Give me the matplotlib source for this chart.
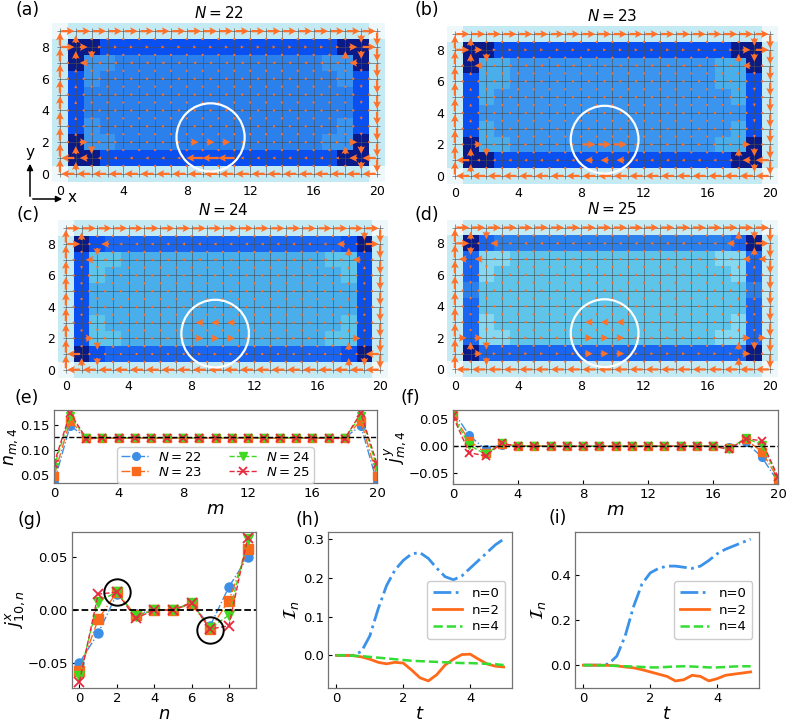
# Density / current maps of the lattice (a-d), cuts (e-g) and time traces (h-i)

import matplotlib
matplotlib.use('Agg')
import matplotlib.pyplot as plt
import numpy as np
from matplotlib.colors import ListedColormap
from matplotlib.patches import Circle

#------------------------------------------data-------------------------------------------------
# colour levels used in the density maps, 0 = lightest ... 9 = darkest
level_colors = ['#eef8fb', '#c4eaf4', '#86d8f0', '#5ec4ea', '#4aaeea',
                '#3b94ee', '#2c80ec', '#1a66f0', '#0a50f0', '#0a1a88']

# density level of every site, rows from y=9 (top) to y=0, columns x=0..20
lev_a = ['0' + '1' * 19 + '0',
         '199' + '8' * 15 + '991',
         '1955' + '6' * 13 + '5591',
         '185' + '6' * 15 + '581',
         '18' + '6' * 17 + '81',
         '18' + '6' * 17 + '81',
         '185' + '6' * 15 + '581',
         '1955' + '6' * 13 + '5591',
         '199' + '8' * 15 + '991',
         '0' + '1' * 19 + '0']
lev_b = ['0' + '1' * 19 + '0',
         '199' + '8' * 15 + '991',
         '1944' + '5' * 13 + '4491',
         '1844' + '5' * 13 + '4481',
         '184' + '5' * 15 + '481',
         '18' + '5' * 17 + '81',
         '184' + '5' * 15 + '481',
         '1944' + '5' * 13 + '4491',
         '199' + '8' * 15 + '991',
         '0' + '1' * 19 + '0']
lev_c = ['0' + '1' * 19 + '0',
         '198' + '7' * 15 + '891',
         '1833' + '4' * 13 + '3381',
         '183' + '4' * 15 + '381',
         '18' + '4' * 17 + '81',
         '18' + '4' * 17 + '81',
         '183' + '4' * 15 + '381',
         '1833' + '4' * 13 + '3381',
         '198' + '7' * 15 + '891',
         '0' + '1' * 19 + '0']
lev_d = ['0' + '1' * 19 + '0',
         '197' + '6' * 15 + '791',
         '1722' + '3' * 13 + '2271',
         '172' + '3' * 15 + '271',
         '16' + '3' * 17 + '61',
         '17' + '3' * 17 + '71',
         '172' + '3' * 15 + '271',
         '1722' + '3' * 13 + '2271',
         '197' + '7' * 15 + '791',
         '0' + '1' * 19 + '0']

# bond currents along x (links m -> m+1), rows y=9..0
jx_code = {'R': 1.0, 'r': 0.6, '>': 0.25, '.': 0.0, '<': -0.25,
           'l': -0.6, 'L': -1.0, 'W': -1.25}
# bond currents along y (links n -> n+1), rows link 8..0, columns x=0..20
jy_code = {'U': 1.0, 'u': 0.6, '^': 0.25, '.': 0.0, 'v': -0.25,
           'd': -0.6, 'D': -1.0}

jx_a = ['R' * 20,
        'Rr' + '>' * 16 + 'rR',
        '.l' + '<' * 16 + 'l.',
        '.' * 20, '.' * 20, '.' * 20, '.' * 20,
        '.r>' + '.' * 5 + 'rrr' + '.' * 6 + '>r.',
        'Ll' + '<' * 6 + 'WWW' + '<' * 7 + 'lL',
        'L' * 20]
jy_a = ['Uu' + '.' * 17 + 'dD',
        'Uud' + '.' * 15 + 'udD',
        'U^' + '.' * 17 + 'vD',
        'U^' + '.' * 17 + 'vD',
        'U^' + '.' * 17 + 'vD',
        'U^' + '.' * 17 + 'vD',
        'U^' + '.' * 17 + 'vD',
        'Uud' + '.' * 15 + 'udD',
        'Uu' + '.' * 17 + 'dD']

jx_b = ['R' * 20,
        'Rr' + '>' * 16 + 'rR',
        '.l' + '<' * 16 + 'l.',
        '.' * 20, '.' * 20, '.' * 20, '.' * 20,
        '.r' + '>' * 6 + 'RRR' + '>' * 7 + 'r.',
        'L<' + '<' * 6 + 'lll' + '<' * 7 + 'lL',
        'L' * 20]
jy_b = jy_a

jx_c = ['R' * 20,
        'R.l' + '<' * 14 + 'l.R',
        '.l' + '<' * 16 + 'l.',
        '.>' + '.' * 16 + '>.',
        '.' * 20, '.' * 20,
        '.<' + '.' * 6 + 'lll' + '.' * 7 + '<.',
        '.r' + '>' * 6 + 'rrr' + '>' * 7 + 'r.',
        'L' + '.' * 7 + '>>>' + '.' * 8 + 'L',
        'L' * 20]
jy_c = ['Uu' + '.' * 17 + 'dD',
        'U.d^' + '.' * 13 + 'vu.D',
        'Uvv' + '.' * 15 + '^^D',
        'U.v' + '.' * 15 + '^.D',
        'U.v' + '.' * 15 + '^.D',
        'U' + '.' * 19 + 'D',
        'U.v' + '.' * 15 + '^.D',
        'U.d^' + '.' * 13 + 'vu.D',
        'Uud' + '.' * 15 + 'udD']

jx_d = ['R' * 20,
        'R.l' + '<' * 14 + 'l.R',
        'll' + '<' * 16 + 'll',
        '.' * 20, '.' * 20, '.' * 20,
        '.' * 8 + 'lll' + '.' * 9,
        'rr' + '>' * 6 + 'rrr' + '>' * 7 + 'rr',
        '.r' + '>' * 6 + 'rrr' + '>' * 7 + 'r.',
        'L' * 20]
jy_d = ['Uud' + '.' * 15 + 'udD',
        'Ud.^' + '.' * 13 + 'v.uD',
        'Uvv' + '.' * 15 + '^^D',
        'Uvv' + '.' * 15 + '^^D',
        'Uvv' + '.' * 15 + '^^D',
        'U.v' + '.' * 15 + '^.D',
        'U.v' + '.' * 15 + '^.D',
        'Uud^' + '.' * 13 + 'vudD',
        'U.d' + '.' * 15 + 'u.D']

titles = ['$N=22$', '$N=23$', '$N=24$', '$N=25$']
labels_N = ['$N=22$', '$N=23$', '$N=24$', '$N=25$']

# (e) density along the row n=4
m_sites = np.arange(21)
n_m4_22 = [0.035, 0.148, 0.124, 0.123, 0.123, 0.124, 0.123, 0.123, 0.124, 0.123, 0.123,
           0.123, 0.124, 0.123, 0.123, 0.124, 0.123, 0.124, 0.124, 0.148, 0.035]
n_m4_23 = [0.048, 0.158, 0.123, 0.123, 0.123, 0.124, 0.123, 0.123, 0.123, 0.123, 0.123,
           0.123, 0.123, 0.123, 0.123, 0.124, 0.123, 0.123, 0.123, 0.158, 0.048]
n_m4_24 = [0.065, 0.168, 0.123, 0.123, 0.123, 0.124, 0.124, 0.123, 0.124, 0.123, 0.124,
           0.123, 0.124, 0.123, 0.124, 0.124, 0.123, 0.123, 0.123, 0.168, 0.065]
n_m4_25 = [0.072, 0.173, 0.122, 0.123, 0.123, 0.124, 0.124, 0.123, 0.124, 0.123, 0.124,
           0.123, 0.124, 0.123, 0.124, 0.124, 0.123, 0.123, 0.122, 0.173, 0.072]

# (f) y-current through the row n=4
jy_m4_22 = [0.065, 0.020, -0.006, 0.003, 0.0, 0.0, 0.0, 0.0, 0.0, 0.0, 0.0,
            0.0, 0.0, 0.0, 0.0, 0.0, 0.0, -0.002, 0.008, -0.020, -0.066]
jy_m4_23 = [0.058, 0.010, -0.012, 0.004, 0.0, 0.0, 0.0, 0.0, 0.0, 0.0, 0.0,
            0.0, 0.0, 0.0, 0.0, 0.0, 0.0, -0.004, 0.013, -0.010, -0.060]
jy_m4_24 = [0.056, 0.002, -0.015, 0.005, 0.0, 0.0, 0.0, 0.0, 0.0, 0.0, 0.0,
            0.0, 0.0, 0.0, 0.0, 0.0, 0.0, -0.005, 0.015, 0.003, -0.058]
jy_m4_25 = [0.055, -0.012, -0.018, 0.005, 0.0, 0.0, 0.0, 0.0, 0.0, 0.0, 0.0,
            0.0, 0.0, 0.0, 0.0, 0.0, 0.0, -0.006, 0.014, 0.010, -0.057]

# (g) x-current through the column m=10
n_rows = np.arange(10)
jx_10n_22 = [-0.050, -0.022, 0.015, -0.004, 0.000, 0.000, 0.006, -0.015, 0.022, 0.050]
jx_10n_23 = [-0.058, -0.009, 0.017, -0.005, 0.000, 0.000, 0.006, -0.018, 0.009, 0.058]
jx_10n_24 = [-0.063, 0.008, 0.017, -0.006, 0.000, 0.000, 0.007, -0.017, -0.005, 0.067]
jx_10n_25 = [-0.068, 0.015, 0.017, -0.008, 0.000, 0.000, 0.007, -0.018, -0.015, 0.068]
circled_n = [2, 7]
circled_j = [0.017, -0.019]

# (h), (i) time traces
t = [0.0, 0.25, 0.5, 0.75, 1.0, 1.25, 1.5, 1.75, 2.0, 2.25, 2.5,
     2.75, 3.0, 3.25, 3.5, 3.75, 4.0, 4.25, 4.5, 4.75, 5.0]
h_n0 = [0.0, 0.0, 0.0, 0.01, 0.05, 0.12, 0.18, 0.22, 0.245, 0.262, 0.265,
        0.25, 0.225, 0.203, 0.195, 0.205, 0.225, 0.245, 0.265, 0.285, 0.30]
h_n2 = [0.0, 0.0, -0.001, -0.004, -0.010, -0.018, -0.022, -0.018, -0.020, -0.038, -0.058,
        -0.066, -0.050, -0.025, -0.010, 0.002, 0.003, -0.010, -0.022, -0.028, -0.030]
h_n4 = [0.0, 0.0, -0.001, -0.002, -0.004, -0.006, -0.008, -0.010, -0.012, -0.014, -0.015,
        -0.016, -0.017, -0.018, -0.019, -0.020, -0.020, -0.021, -0.022, -0.023, -0.025]
i_n0 = [0.0, 0.0, 0.0, 0.005, 0.04, 0.13, 0.26, 0.36, 0.41, 0.43, 0.44,
        0.44, 0.435, 0.43, 0.44, 0.465, 0.495, 0.515, 0.53, 0.545, 0.56]
i_n2 = [0.0, 0.0, 0.0, -0.001, -0.003, -0.008, -0.012, -0.020, -0.030, -0.040, -0.050,
        -0.070, -0.065, -0.045, -0.050, -0.070, -0.060, -0.045, -0.040, -0.035, -0.030]
i_n4 = [0.0, 0.0, -0.001, -0.002, -0.003, -0.005, -0.006, -0.008, -0.010, -0.010, -0.008,
        -0.006, -0.005, -0.006, -0.008, -0.010, -0.010, -0.008, -0.006, -0.005, -0.005]

#------------------------------------------styles-----------------------------------------------
c_blue, c_orange, c_green, c_red = '#3d8ee6', '#fa6a1c', '#40d820', '#e8283c'
series_style = [dict(color=c_blue, marker='o', ls='-.'),
                dict(color=c_orange, marker='s', ls='-.'),
                dict(color=c_green, marker='v', ls='--'),
                dict(color=c_red, marker='x', ls='--', mew=1.3)]
arrow_color = '#ff7028'
cmap = ListedColormap(level_colors)

fig = plt.figure(figsize=(7.89, 7.26), dpi=100)
W, H = 789.0, 726.0


def px_axes(x0, y0, x1, y1):
    return fig.add_axes([x0 / W, 1 - y1 / H, (x1 - x0) / W, (y1 - y0) / H])


def lattice_panel(ax, lev, jx_rows, jy_rows, title):
    grid = np.array([[int(c) for c in r] for r in lev[::-1]])
    ax.imshow(grid, cmap=cmap, vmin=-0.5, vmax=9.5, origin='lower',
              extent=(-0.5, 20.5, -0.5, 9.5), interpolation='nearest', zorder=0)
    ax.vlines(np.arange(21), -0.2, 9.2, color='0.3', lw=0.7, alpha=0.6, zorder=1)
    ax.hlines(np.arange(10), -0.2, 20.2, color='0.3', lw=0.7, alpha=0.6, zorder=1)

    jx = np.array([[jx_code[c] for c in r] for r in jx_rows[::-1]])
    jy = np.array([[jy_code[c] for c in r] for r in jy_rows[::-1]])
    qkw = dict(angles='xy', scale_units='xy', scale=1 / 0.82, pivot='mid',
               color=arrow_color, width=0.0068, headwidth=3.4, headlength=3.4,
               headaxislength=2.9, minlength=1.1, zorder=3)
    xx, yy = np.meshgrid(np.arange(20) + 0.5, np.arange(10))
    ax.quiver(xx, yy, jx, np.zeros_like(jx), **qkw)
    xx, yy = np.meshgrid(np.arange(21), np.arange(9) + 0.5)
    ax.quiver(xx, yy, np.zeros_like(jy), jy, **qkw)

    ax.add_patch(Circle((9.5, 2.3), 2.15, fill=False, ec='white', lw=1.6, zorder=4))
    ax.set_xlim(-0.5, 20.5)
    ax.set_ylim(-0.5, 9.5)
    ax.set_xticks([0, 4, 8, 12, 16, 20])
    ax.set_yticks([0, 2, 4, 6, 8])
    ax.tick_params(length=0, labelsize=9, pad=2)
    for s in ax.spines.values():
        s.set_visible(False)
    ax.set_title(title, fontsize=11, pad=4)


lattice_panel(px_axes(52, 23, 385, 182), lev_a, jx_a, jy_a, titles[0])
lattice_panel(px_axes(447, 25, 778, 185), lev_b, jx_b, jy_b, titles[1])
lattice_panel(px_axes(58, 220, 388, 378), lev_c, jx_c, jy_c, titles[2])
lattice_panel(px_axes(447, 219, 778, 378), lev_d, jx_d, jy_d, titles[3])

# small x / y direction sketch under panel (a)
fig.add_artist(matplotlib.patches.FancyArrowPatch(
    (30 / W, 1 - 199 / H), (30 / W, 1 - 161 / H), transform=fig.transFigure,
    arrowstyle='-|>', mutation_scale=9, color='k', lw=1.1))
fig.add_artist(matplotlib.patches.FancyArrowPatch(
    (30 / W, 1 - 199 / H), (65 / W, 1 - 199 / H), transform=fig.transFigure,
    arrowstyle='-|>', mutation_scale=9, color='k', lw=1.1))
fig.text(30 / W, 1 - 152 / H, 'y', fontsize=11, ha='center', va='center')
fig.text(72 / W, 1 - 198 / H, 'x', fontsize=11, ha='center', va='center')


def style_line_axes(ax):
    ax.tick_params(direction='in', labelsize=9.5, length=3, pad=3)
    for s in ax.spines.values():
        s.set_color('0.45')
        s.set_linewidth(0.9)


#------------------------------------------(e)--------------------------------------------------
ax_e = px_axes(54, 410, 377, 483)
for vals, st, lab in zip([n_m4_22, n_m4_23, n_m4_24, n_m4_25], series_style, labels_N):
    ax_e.plot(m_sites, vals, lw=1.0, ms=5.5, label=lab, **st)
ax_e.axhline(0.125, color='k', ls='--', lw=1.0)
ax_e.set_xlim(0, 20)
ax_e.set_ylim(0.034, 0.179)
ax_e.set_xticks([0, 4, 8, 12, 16, 20])
ax_e.set_yticks([0.05, 0.10, 0.15])
ax_e.set_xlabel('$m$', fontsize=13, labelpad=0)
ax_e.set_ylabel('$n_{m,4}$', fontsize=12.5, labelpad=0)
style_line_axes(ax_e)
ax_e.legend(loc='lower center', ncol=2, fontsize=9.5, handlelength=2.2,
            labelspacing=0.15, columnspacing=2.0, borderpad=0.3, handletextpad=0.6,
            borderaxespad=0.0, framealpha=1.0)

#------------------------------------------(f)--------------------------------------------------
ax_f = px_axes(453, 410, 778, 484)
for vals, st in zip([jy_m4_22, jy_m4_23, jy_m4_24, jy_m4_25], series_style):
    ax_f.plot(m_sites, vals, lw=1.0, ms=5.5, **st)
ax_f.axhline(0.0, color='k', ls='--', lw=1.0)
ax_f.set_xlim(0, 20)
ax_f.set_ylim(-0.07, 0.067)
ax_f.set_xticks([0, 4, 8, 12, 16, 20])
ax_f.set_yticks([-0.05, 0.00, 0.05])
ax_f.set_xlabel('$m$', fontsize=13, labelpad=0)
ax_f.set_ylabel('$j^{y}_{m,4}$', fontsize=12.5, labelpad=0)
style_line_axes(ax_f)

#------------------------------------------(g)--------------------------------------------------
ax_g = px_axes(72, 532, 256, 688)
for vals, st in zip([jx_10n_22, jx_10n_23, jx_10n_24, jx_10n_25], series_style):
    ax_g.plot(n_rows, vals, lw=1.0, ms=6.5, **st)
ax_g.axhline(0.0, color='k', ls='--', lw=1.3)
ax_g.plot(circled_n, circled_j, 'o', ms=19, mfc='none', mec='k', mew=1.4)
ax_g.set_xlim(-0.4, 9.45)
ax_g.set_ylim(-0.074, 0.074)
ax_g.set_xticks([0, 2, 4, 6, 8])
ax_g.set_yticks([-0.05, 0.00, 0.05])
ax_g.set_xlabel('$n$', fontsize=13, labelpad=0)
ax_g.set_ylabel('$j^{x}_{10,n}$', fontsize=13, labelpad=0)
style_line_axes(ax_g)

#------------------------------------------(h), (i)---------------------------------------------
for rect, y0, y2, y4, ticks in [((328, 532, 512, 688), h_n0, h_n2, h_n4, [0.0, 0.1, 0.2, 0.3]),
                                ((575, 532, 759, 688), i_n0, i_n2, i_n4, [0.0, 0.2, 0.4])]:
    ax = px_axes(*rect)
    ax.plot(t, y0, color='#3a92ea', ls='-.', lw=2.0, label='n=0')
    ax.plot(t, y2, color='#ff6a1a', ls='-', lw=2.0, label='n=2')
    ax.plot(t, y4, color='#33dd33', ls='--', lw=1.8, label='n=4')
    ax.set_yticks(ticks)
    ax.set_xticks([0, 2, 4])
    ax.set_xlabel('$t$', fontsize=13, labelpad=0)
    ax.set_ylabel(r'$\mathcal{I}_n$', fontsize=13, labelpad=1)
    style_line_axes(ax)
    ax.legend(loc='center right', fontsize=9.5, handlelength=2.2, labelspacing=0.3,
              borderpad=0.4, framealpha=1.0)

#------------------------------------------panel letters----------------------------------------
for lab, x, y in [('(a)', 28, 10), ('(b)', 427, 10), ('(c)', 28, 215), ('(d)', 427, 215),
                  ('(e)', 27, 398), ('(f)', 410, 398), ('(g)', 30, 520),
                  ('(h)', 308, 520), ('(i)', 558, 518)]:
    fig.text(x / W, 1 - y / H, lab, fontsize=12.5, ha='center', va='center')

fig.savefig('out.png', dpi=100)
